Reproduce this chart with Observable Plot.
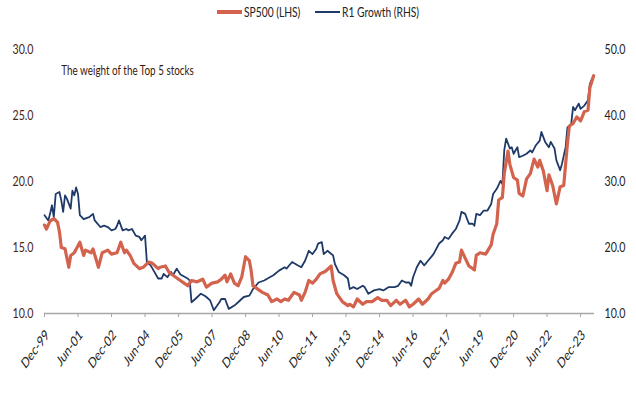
<!DOCTYPE html>
<html>
<head>
<meta charset="utf-8">
<script src="https://cdn.jsdelivr.net/npm/d3@7"></script>
<script src="https://cdn.jsdelivr.net/npm/@observablehq/plot@0.6"></script>
<style>
  html, body { margin: 0; padding: 0; background: #fff; }
  #wrap { position: relative; width: 636px; height: 396px; font-family: Lato, "Liberation Sans", sans-serif; }
  #legend { position: absolute; top: 4px; left: 0; width: 636px; display: flex; justify-content: center; align-items: center; font-size: 13.5px; color: #222; white-space: nowrap; }
  #legend .item { display: flex; align-items: center; margin: 0 7px; }
  #legend .sw { display: inline-block; width: 25px; margin-right: 2px; }
  #legend .t { display: inline-block; transform-origin: left center; }
</style>
</head>
<body>
<div id="wrap">
  <div id="chart"></div>
  <div id="legend"></div>
</div>
<script>
// ---- Data ----
const seriesNames = ["SP500 (LHS)", "R1 Growth (RHS)"];
const seriesColors = ["#d3634d", "#1f3a68"];

const spDates = ["1999-12","2000-01","2000-03","2000-05","2000-07","2000-08","2000-09","2000-11","2001-01","2001-02","2001-04","2001-07","2001-09","2001-10","2002-01","2002-02","2002-05","2002-07","2002-10","2002-12","2003-03","2003-05","2003-07","2003-08","2003-10","2003-12","2004-03","2004-05","2004-08","2004-10","2005-01","2005-02","2005-05","2005-07","2005-09","2005-12","2006-03","2006-05","2006-07","2006-10","2007-01","2007-03","2007-06","2007-09","2007-11","2008-01","2008-02","2008-04","2008-06","2008-08","2008-10","2008-12","2009-02","2009-03","2009-04","2009-06","2009-09","2009-12","2010-02","2010-05","2010-07","2010-09","2010-11","2011-02","2011-05","2011-06","2011-08","2011-10","2011-12","2012-02","2012-04","2012-07","2012-10","2012-11","2013-01","2013-04","2013-07","2013-08","2013-10","2013-12","2014-03","2014-05","2014-08","2014-11","2015-01","2015-04","2015-06","2015-09","2015-11","2016-02","2016-04","2016-06","2016-09","2016-11","2017-02","2017-04","2017-06","2017-08","2017-10","2017-11","2018-01","2018-03","2018-05","2018-07","2018-08","2018-10","2018-12","2019-01","2019-03","2019-04","2019-06","2019-09","2019-12","2020-01","2020-03","2020-04","2020-06","2020-07","2020-09","2020-10","2020-12","2021-02","2021-03","2021-05","2021-07","2021-09","2021-11","2022-01","2022-02","2022-04","2022-06","2022-07","2022-09","2022-11","2023-01","2023-03","2023-05","2023-06","2023-08","2023-10","2023-12","2024-02","2024-04","2024-05","2024-07"];
const spValues = [16.7,16.4,17.0,17.2,16.9,16.2,15.0,14.9,13.5,14.4,14.6,15.4,14.4,14.8,14.6,14.9,13.5,14.6,14.8,14.5,14.6,15.4,14.6,14.8,14.4,13.8,13.4,13.5,13.9,13.8,13.4,13.5,13.6,13.1,12.9,12.6,12.3,12.1,12.5,12.4,12.6,12.0,12.3,12.4,12.6,12.9,12.4,13.0,12.3,12.1,12.8,14.3,14.0,13.3,12.1,11.9,11.6,11.4,10.9,11.1,10.9,11.1,11.0,11.6,11.4,11.0,11.6,12.5,12.3,12.6,13.0,13.2,13.6,12.5,11.5,10.9,10.6,10.7,10.5,11.1,10.7,10.9,10.9,11.2,11.0,11.0,10.6,11.0,10.7,11.0,10.5,10.7,11.1,10.7,11.1,11.5,11.7,11.9,12.5,12.3,12.6,13.1,13.8,13.9,14.8,14.2,13.6,13.5,13.3,14.4,14.6,14.5,15.2,16.0,16.8,18.6,18.8,20.6,22.3,21.3,20.3,20.1,19.1,18.9,20.2,20.6,21.7,21.1,21.6,20.8,19.3,20.5,19.7,18.3,19.6,19.7,22.9,24.2,24.4,24.9,24.6,25.3,25.4,27.1,28.0];

const r1Dates = ["1999-12","2000-02","2000-03","2000-04","2000-05","2000-06","2000-08","2000-09","2000-10","2000-11","2000-12","2001-02","2001-03","2001-04","2001-05","2001-06","2001-07","2001-09","2001-12","2002-02","2002-03","2002-06","2002-08","2002-10","2002-12","2003-02","2003-03","2003-04","2003-06","2003-08","2003-09","2003-11","2004-01","2004-03","2004-04","2004-06","2004-07","2004-09","2004-11","2005-01","2005-03","2005-04","2005-06","2005-08","2005-09","2005-11","2006-01","2006-03","2006-05","2006-06","2006-07","2006-09","2006-12","2007-02","2007-03","2007-05","2007-07","2007-08","2007-10","2007-11","2008-01","2008-03","2008-06","2008-08","2008-11","2009-02","2009-04","2009-07","2009-10","2010-01","2010-03","2010-06","2010-09","2010-10","2011-01","2011-04","2011-06","2011-08","2011-10","2011-12","2012-02","2012-03","2012-05","2012-06","2012-08","2012-11","2012-12","2013-02","2013-05","2013-07","2013-08","2013-10","2013-12","2014-03","2014-04","2014-06","2014-09","2014-12","2015-02","2015-05","2015-08","2015-10","2015-12","2016-02","2016-04","2016-05","2016-06","2016-08","2016-10","2016-12","2017-02","2017-05","2017-08","2017-10","2017-11","2018-01","2018-03","2018-05","2018-07","2018-08","2018-10","2018-12","2019-02","2019-03","2019-04","2019-06","2019-08","2019-10","2019-12","2020-01","2020-03","2020-05","2020-06","2020-07","2020-08","2020-10","2020-11","2020-12","2021-02","2021-03","2021-05","2021-07","2021-09","2021-10","2021-12","2022-02","2022-03","2022-05","2022-07","2022-08","2022-10","2022-11","2023-01","2023-02","2023-04","2023-05","2023-07","2023-08","2023-09","2023-11","2023-12","2024-02","2024-04","2024-05","2024-07"];
const r1Values = [24.9,24.1,25.1,26.4,24.6,28.1,28.4,27.1,25.4,27.9,27.4,25.9,28.6,27.9,29.1,28.1,24.9,24.3,24.6,25.1,24.1,23.1,23.3,23.1,22.6,22.8,23.3,24.1,22.6,22.8,22.6,22.8,21.8,21.6,21.1,21.8,17.8,17.3,16.3,15.3,15.3,16.0,15.5,16.3,15.8,16.8,15.9,15.6,15.3,15.0,11.7,12.2,13.0,12.7,12.5,12.0,10.5,10.9,11.7,12.2,12.2,10.7,11.2,11.7,12.5,12.7,13.7,14.7,15.0,15.5,15.8,16.5,17.0,16.8,17.8,17.3,17.0,18.0,19.5,19.0,19.8,20.6,20.8,19.0,19.5,18.8,17.5,16.3,15.8,15.3,13.7,14.0,13.7,14.2,14.0,13.0,13.5,13.7,13.5,14.0,14.0,14.2,15.0,14.7,14.7,14.2,15.5,17.0,18.0,17.3,18.0,19.0,20.6,21.1,21.6,21.3,22.1,22.8,24.1,25.4,25.1,23.6,23.6,23.3,25.1,24.9,25.6,25.6,26.6,28.1,28.9,30.1,29.6,34.7,36.5,35.0,35.2,34.2,35.2,33.7,33.9,34.2,34.7,34.4,35.5,36.2,37.5,36.0,35.2,36.0,35.0,33.2,31.7,32.7,35.2,38.2,38.7,41.3,40.8,41.8,41.0,41.5,42.3,44.8,46.1];

const xTickLabels = ["Dec-99","Jun-01","Dec-02","Jun-04","Dec-05","Jun-07","Dec-08","Jun-10","Dec-11","Jun-13","Dec-14","Jun-16","Dec-17","Jun-19","Dec-20","Jun-22","Dec-23"];
const leftTicks = [10, 15, 20, 25, 30];
const rightTicks = [10, 20, 30, 40, 50];
const annotationText = "The weight of the Top 5 stocks";
const annotationDate = "2000-09";
const annotationValue = 28.4;

// ---- Build ----
const NARROW = 0.76; // horizontal squeeze to mimic the reference's condensed look
const parseMonth = d3.timeParse("%Y-%m");
const parseTick = d3.timeParse("%b-%y");
const tickDates = xTickLabels.map(parseTick);
const tickLabelByTime = new Map(tickDates.map((d, i) => [+d, xTickLabels[i]]));

// right axis (RHS) maps onto left scale: left = (right + 10) / 2
const toLeft = r => (r + 10) / 2;

const sp = spDates.map((d, i) => ({date: parseMonth(d), value: spValues[i]}));
const r1 = r1Dates.map((d, i) => ({date: parseMonth(d), value: toLeft(r1Values[i])}));
const rightTickPositions = rightTicks.map(toLeft);
const rightLabelByPos = new Map(rightTickPositions.map((p, i) => [p, rightTicks[i].toFixed(1)]));

const font = 'Lato, "Liberation Sans", sans-serif';

const chart = Plot.plot({
  width: 636,
  height: 396,
  marginLeft: 44,
  marginRight: 42,
  marginTop: 49,
  marginBottom: 83,
  style: {fontFamily: font, fontSize: "13px", background: "#fff", overflow: "visible"},
  x: {type: "time", domain: [new Date(1999, 11, 1), new Date(2024, 6, 16)]},
  y: {domain: [10, 30]},
  marks: [
    Plot.ruleY([10], {stroke: "#a6a6a6", strokeWidth: 1.3}),
    Plot.axisX(tickDates, {tickSize: 4, stroke: "#a6a6a6", tickFormat: () => "", label: null}),
    Plot.axisX(tickDates, {tickSize: 0, tickPadding: 15, rotate: -45, textAnchor: "end",
      tickFormat: d => tickLabelByTime.get(+d), fill: "#222", fontSize: 14.5, label: null}),
    Plot.axisY(leftTicks, {anchor: "left", tickSize: 0, tickPadding: 11, fontSize: 14,
      tickFormat: d => d.toFixed(1), fill: "#4a2412", label: null}),
    Plot.axisY(rightTickPositions, {anchor: "right", tickSize: 0, tickPadding: 10, fontSize: 14,
      tickFormat: d => rightLabelByPos.get(d), fill: "#222", label: null}),
    Plot.line(r1, {x: "date", y: "value", stroke: seriesColors[1], strokeWidth: 1.8, curve: "linear"}),
    Plot.line(sp, {x: "date", y: "value", stroke: seriesColors[0], strokeWidth: 3.2, curve: "linear"}),
    Plot.text([annotationText], {x: () => parseMonth(annotationDate), y: () => annotationValue,
      textAnchor: "start", fill: "#3a1a10", fontSize: 13})
  ]
});
document.getElementById("chart").appendChild(chart);

// condense texts horizontally (rotated labels: squeeze the whole rotated glyph run in x)
chart.querySelectorAll("text").forEach(el => {
  const tr = el.getAttribute("transform") || "";
  if (/rotate\(/.test(tr)) {
    el.setAttribute("transform", tr.replace(/rotate\(/, `scale(${NARROW - 0.04},1) rotate(`));
    return;
  }
  const w = el.getComputedTextLength();
  if (w > 0) {
    el.setAttribute("textLength", (w * NARROW).toFixed(2));
    el.setAttribute("lengthAdjust", "spacingAndGlyphs");
  }
});

// legend
const legend = document.getElementById("legend");
seriesNames.forEach((name, i) => {
  const item = document.createElement("span");
  item.className = "item";
  const sw = document.createElement("span");
  sw.className = "sw";
  sw.style.height = i === 0 ? "4px" : "2px";
  sw.style.background = seriesColors[i];
  const t = document.createElement("span");
  t.className = "t";
  t.textContent = name;
  item.appendChild(sw);
  item.appendChild(t);
  legend.appendChild(item);
  const w = t.getBoundingClientRect().width;
  t.style.transform = `scaleX(${NARROW})`;
  t.style.marginRight = `${w * (NARROW - 1)}px`;
});
</script>
</body>
</html>
